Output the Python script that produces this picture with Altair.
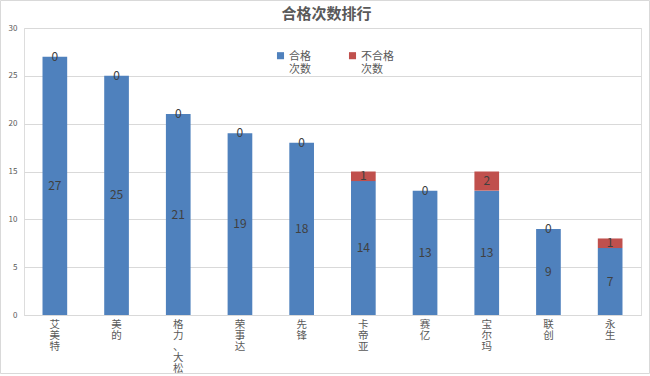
import altair as alt
import pandas as pd

categories = ["艾美特", "美的", "格力、大松", "荣事达", "先锋", "卡帝亚", "赛亿", "宝尔玛", "联创", "永生"]
pass_counts = [27, 25, 21, 19, 18, 14, 13, 13, 9, 7]
fail_counts = [0, 0, 0, 0, 0, 1, 0, 2, 0, 1]
series_names = ["合格次数", "不合格次数"]
colors = ["#4f81bd", "#c0504d"]

rows = []
for i, c in enumerate(categories):
    p, f = pass_counts[i], fail_counts[i]
    rows.append({"cat": c, "series": series_names[0], "value": p, "y0": 0, "y1": p, "mid": p / 2, "ord": 0})
    rows.append({"cat": c, "series": series_names[1], "value": f, "y0": p, "y1": p + f, "mid": p + f / 2, "ord": 1})
df = pd.DataFrame(rows)

FONT = "Noto Sans CJK SC"

x_enc = alt.X("cat:N", sort=categories, title=None,
              scale=alt.Scale(paddingInner=0.6, paddingOuter=0.3),
              axis=alt.Axis(labelAngle=0, labelExpr="split(datum.label, '')",
                            labelFontSize=10.5, labelColor="#595959", labelFont=FONT,
                            labelLineHeight=11, labelBaseline="top", labelPadding=4,
                            ticks=False, domainColor="#d9d9d9", labelOverlap=False))

bars = alt.Chart(df).mark_bar().encode(
    x=x_enc,
    y=alt.Y("y0:Q", title=None, scale=alt.Scale(domain=[0, 30]),
            axis=alt.Axis(values=[0, 5, 10, 15, 20, 25, 30], labelFontSize=8,
                          labelColor="#595959", domain=False, ticks=False,
                          gridColor="#d9d9d9", labelPadding=7, labelFont=FONT)),
    y2="y1:Q",
    color=alt.Color("series:N", sort=series_names,
                    scale=alt.Scale(domain=series_names, range=colors),
                    legend=alt.Legend(title=None, orient="none", legendX=251, legendY=17,
                                      direction="horizontal",
                                      symbolType="M-1,0.4H1V2.4H-1Z",
                                      symbolSize=50, symbolStrokeWidth=0,
                                      labelExpr="[slice(datum.label, 0, -2), slice(datum.label, -2)]",
                                      labelFontSize=11, labelColor="#595959", labelFont=FONT,
                                      labelBaseline="top", labelOffset=3,
                                      columnPadding=36, symbolOffset=0)),
    order="ord:Q",
)

labels = alt.Chart(df).mark_text(fontSize=12, color="#404040", font=FONT, baseline="middle").encode(
    x=alt.X("cat:N", sort=categories),
    y=alt.Y("mid:Q"),
    text="value:Q",
)

frame = alt.Chart(pd.DataFrame({"a": [0]})).mark_rect(fill=None, stroke="#d9d9d9", strokeWidth=1).encode(
    x=alt.value(-23.5), x2=alt.value(625.5), y=alt.value(-27.5), y2=alt.value(345.5)
)

chart = alt.layer(bars, labels, frame).properties(
    width=617, height=287,
    title=alt.Title("合格次数排行", fontSize=15, fontWeight="bold", color="#595959", font=FONT,
                    anchor="middle", frame="group", offset=5, dx=-6, dy=27),
    autosize=alt.AutoSizeParams(type="none"),
    padding={"left": 24, "top": 28, "right": 9, "bottom": 61},
).configure_view(stroke=None).configure(background="white")

chart.save("out.html", embed_options={"renderer": "svg", "actions": False})
